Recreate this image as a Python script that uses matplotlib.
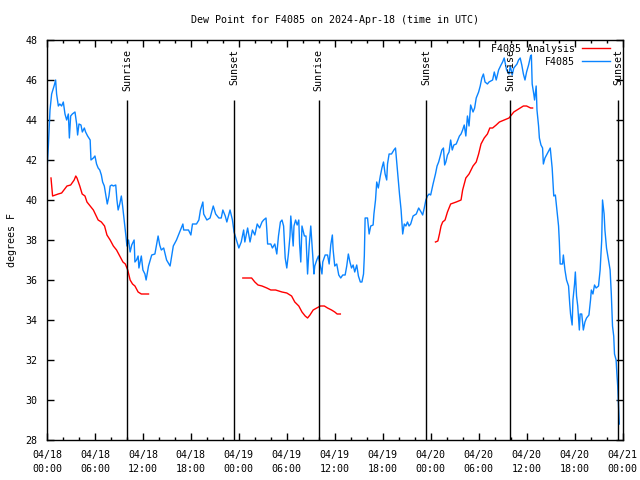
import matplotlib
matplotlib.use("Agg")
import matplotlib.pyplot as plt
import matplotlib.dates as mdates
import numpy as np
import pandas as pd

START = pd.Timestamp("2024-04-18 00:00")

# F4085 observations: hours since 04/18 00:00 UTC, dew point (F)
obs_hours = [
    0.0, 0.17, 0.375, 0.58, 0.92, 1.08, 1.2, 1.42, 1.6, 1.83, 2.04, 2.25, 2.46, 2.67, 2.8, 2.96,
    3.17, 3.5, 3.71, 3.83, 4.0, 4.25, 4.42, 4.67, 4.83, 5.08, 5.4, 5.5, 5.8, 6.0, 6.2, 6.4,
    6.6, 6.8, 6.96, 7.17, 7.33, 7.54, 7.75, 7.9, 8.1, 8.3, 8.6, 8.75, 8.9, 9.1, 9.3, 9.46,
    9.6, 9.75, 9.9, 10.0, 10.2, 10.4, 10.6, 10.9, 11.0, 11.2, 11.4, 11.5, 11.8, 12.0, 12.25, 12.4,
    12.7, 13.1, 13.5, 13.9, 14.1, 14.3, 14.6, 14.96, 15.4, 15.8, 16.2, 16.6, 17.0, 17.1, 17.7, 18.0,
    18.2, 18.7, 19.0, 19.2, 19.5, 19.6, 20.0, 20.4, 20.8, 21.1, 21.5, 21.8, 22.0, 22.3, 22.5, 22.9,
    23.2, 23.4, 23.7, 24.0, 24.3, 24.6, 24.75, 25.1, 25.4, 25.7, 26.0, 26.3, 26.6, 26.9, 27.1, 27.4,
    27.5, 27.6, 28.0, 28.2, 28.5, 28.75, 28.96, 29.2, 29.4, 29.6, 29.8, 30.0, 30.2, 30.4, 30.5, 30.8,
    30.9, 31.1, 31.3, 31.5, 31.6, 31.75, 31.9, 32.2, 32.4, 32.6, 32.8, 33.0, 33.2, 33.4, 33.5, 33.75,
    33.96, 34.2, 34.4, 34.5, 34.8, 35.1, 35.3, 35.5, 35.7, 35.8, 36.0, 36.25, 36.5, 36.75, 37.0, 37.3,
    37.5, 37.7, 37.9, 38.1, 38.3, 38.5, 38.75, 38.96, 39.2, 39.4, 39.6, 39.7, 39.8, 40.1, 40.3, 40.5,
    40.8, 40.9, 41.1, 41.25, 41.45, 41.7, 41.9, 42.1, 42.3, 42.5, 42.6, 42.8, 43.1, 43.4, 43.6, 43.9,
    44.1, 44.3, 44.5, 44.7, 44.9, 45.1, 45.3, 45.5, 45.8, 46.2, 46.5, 46.8, 47.0, 47.2, 47.4, 47.6,
    47.8, 48.0, 48.3, 48.6, 48.8, 49.0, 49.2, 49.4, 49.6, 49.75, 49.9, 50.1, 50.3, 50.5, 50.7, 50.9,
    51.2, 51.4, 51.6, 51.8, 52.0, 52.2, 52.4, 52.6, 52.8, 53.0, 53.3, 53.5, 53.7, 54.0, 54.2, 54.4,
    54.6, 54.8, 55.1, 55.3, 55.75, 55.96, 56.2, 56.5, 56.8, 57.0, 57.2, 57.4, 57.5, 57.8, 57.96, 58.2,
    58.4, 58.6, 58.8, 59.0, 59.2, 59.4, 59.6, 59.8, 60.0, 60.25, 60.5, 60.6, 60.7, 60.9, 61.0, 61.2,
    61.3, 61.5, 61.6, 61.8, 62.0, 62.1, 62.3, 62.5, 62.7, 62.96, 63.2, 63.4, 63.6, 63.8, 64.0, 64.1,
    64.2, 64.5, 64.6, 64.8, 65.0, 65.25, 65.4, 65.5, 65.7, 65.8, 66.0, 66.1, 66.25, 66.4, 66.6, 66.7,
    66.9, 67.1, 67.3, 67.5, 67.8, 68.0, 68.1, 68.3, 68.5, 68.7, 69.0, 69.2, 69.4, 69.5, 69.7, 69.8,
    70.0, 70.25, 70.45, 70.6, 70.75, 70.9, 71.0, 71.2, 71.3, 71.4, 71.5, 71.6,
]
obs_dewpt = [
    41.5, 42.7, 44.5, 45.3, 45.75, 46.0, 45.3, 44.7, 44.8, 44.7, 44.9, 44.3, 44.0, 44.3, 43.1, 44.2,
    44.3, 44.4, 43.8, 43.25, 43.8, 43.75, 43.4, 43.6, 43.4, 43.2, 43.0, 42.0, 42.1, 42.2, 41.8, 41.6,
    41.5, 41.25, 40.9, 40.7, 40.3, 39.8, 40.2, 40.7, 40.75, 40.7, 40.75, 40.0, 39.5, 39.8, 40.2, 39.7,
    39.2, 38.7, 38.1, 37.7, 38.0, 37.4, 37.75, 38.0, 36.9, 37.0, 37.2, 36.6, 37.2, 36.5, 36.3, 36.0,
    36.7, 37.25, 37.3, 38.2, 37.75, 37.5, 37.6, 37.0, 36.7, 37.7, 38.0, 38.4, 38.8, 38.5, 38.5, 38.25,
    38.8, 38.8, 39.0, 39.5, 39.9, 39.3, 39.0, 39.1, 39.7, 39.3, 39.1, 39.1, 39.5, 39.2, 38.9, 39.5,
    39.0, 38.4, 38.0, 37.6, 37.9, 38.5, 37.9, 38.6, 37.9, 38.5, 38.25, 38.8, 38.6, 38.9, 39.0, 39.1,
    38.5, 37.8, 37.8, 37.6, 37.8, 37.3, 38.2, 38.9, 39.0, 38.7, 37.1, 36.6, 37.3, 38.2, 39.2, 37.7,
    38.7, 39.0, 38.75, 39.0, 37.8, 36.9, 38.7, 38.2, 38.2, 36.3, 37.7, 38.7, 37.5, 36.3, 36.7, 37.0,
    37.2, 36.7, 36.3, 36.9, 37.25, 37.25, 36.8, 37.75, 38.25, 37.5, 36.7, 36.8, 36.25, 36.1, 36.25, 36.25,
    36.7, 37.3, 36.9, 36.6, 36.75, 36.4, 36.75, 36.2, 35.9, 35.9, 36.3, 37.2, 39.1, 39.1, 38.3, 38.7,
    38.75, 39.3, 40.0, 40.9, 40.6, 41.2, 41.6, 41.9, 41.3, 41.0, 41.8, 42.3, 42.3, 42.5, 42.6, 41.2,
    40.3, 39.5, 38.3, 38.8, 38.7, 38.9, 38.7, 38.8, 39.2, 39.3, 39.6, 39.4, 39.25, 39.6, 40.0, 40.2,
    40.3, 40.25, 40.8, 41.3, 41.7, 41.9, 42.2, 42.5, 42.6, 41.75, 41.9, 42.25, 42.4, 43.0, 42.5, 42.75,
    42.8, 43.0, 43.2, 43.3, 43.5, 43.75, 43.2, 44.2, 43.7, 44.75, 44.4, 44.6, 45.1, 45.4, 45.7, 46.1,
    46.3, 45.9, 45.8, 45.9, 46.0, 46.4, 46.0, 46.5, 46.75, 46.9, 47.1, 46.7, 46.5, 46.3, 46.7, 46.25,
    46.6, 46.7, 46.8, 47.0, 47.1, 46.75, 46.3, 46.0, 46.4, 46.75, 47.2, 47.25, 45.8, 45.3, 45.0, 45.7,
    44.5, 43.7, 43.1, 42.75, 42.6, 41.8, 42.1, 42.25, 42.4, 42.6, 41.6, 40.2, 40.25, 39.5, 38.7, 37.9,
    36.8, 36.8, 37.25, 36.5, 36.0, 35.7, 34.8, 34.3, 33.75, 35.0, 35.8, 36.4, 35.2, 34.7, 33.5, 34.3,
    34.3, 33.5, 33.9, 34.1, 34.25, 35.0, 35.5, 35.3, 35.75, 35.6, 35.7, 36.5, 38.0, 40.0, 39.3, 38.5,
    37.6, 37.0, 36.5, 35.3, 33.7, 33.2, 32.3, 32.0, 31.3, 30.7, 29.7, 28.8,
]

# F4085 Analysis (NaN marks the gaps between analysis runs)
ana_hours = [
    0.5, 0.7, 1.4, 1.83, 2.5, 2.96, 3.4, 3.6, 3.75, 4.1, 4.4, 4.75, 5.0, 5.4, 5.8, 6.1,
    6.4, 6.8, 7.2, 7.5, 7.9, 8.3, 8.7, 9.1, 9.5, 9.8, 10.1, 10.4, 10.7, 11.0, 11.4, 11.8,
    12.25, 12.7, 18.0,
    24.5, 25.2, 25.6, 26.0, 26.4, 26.9, 27.5, 28.0, 28.6, 29.4, 30.0, 30.6, 31.0, 31.5, 31.9, 32.3,
    32.6, 32.9, 33.3, 33.75, 34.2, 34.7, 35.1, 35.6, 36.0, 36.3, 36.7, 42.0,
    48.6, 48.9, 49.1, 49.3, 49.5, 49.8, 50.1, 50.5, 51.2, 51.8, 52.0, 52.4, 52.8, 53.3, 53.7, 54.0,
    54.3, 54.7, 55.1, 55.4, 55.75, 56.2, 56.6, 57.2, 57.8, 58.4, 58.8, 59.2, 59.6, 60.0, 60.5, 60.75,
]
ana_dewpt = [
    41.1, 40.2, 40.3, 40.35, 40.7, 40.75, 41.0, 41.2, 41.1, 40.7, 40.3, 40.2, 39.9, 39.7, 39.5, 39.25,
    39.0, 38.9, 38.7, 38.25, 38.0, 37.7, 37.5, 37.2, 36.9, 36.8, 36.5, 36.0, 35.8, 35.7, 35.4, 35.3,
    35.3, 35.3, np.nan,
    36.1, 36.1, 36.1, 35.9, 35.75, 35.7, 35.6, 35.5, 35.5, 35.4, 35.35, 35.2, 34.9, 34.7, 34.4, 34.2,
    34.1, 34.25, 34.5, 34.6, 34.7, 34.7, 34.6, 34.5, 34.4, 34.3, 34.3, np.nan,
    37.9, 37.95, 38.3, 38.7, 38.9, 39.0, 39.4, 39.8, 39.9, 40.0, 40.5, 41.1, 41.3, 41.7, 41.9, 42.3,
    42.8, 43.1, 43.3, 43.6, 43.6, 43.75, 43.9, 44.0, 44.1, 44.4, 44.5, 44.6, 44.7, 44.7, 44.6, 44.6,
]

sun_hours = [10.0, 23.42, 33.98, 47.43, 57.95, 71.43]
sun_labels = ["Sunrise", "Sunset", "Sunrise", "Sunset", "Sunrise", "Sunset"]


def to_time(hours):
    return START + pd.to_timedelta(hours, unit="h")


plt.rcParams["font.family"] = "DejaVu Sans Mono"
plt.rcParams["font.size"] = 7.2

fig = plt.figure(figsize=(6.4, 4.8), dpi=100)
ax = fig.add_axes([47 / 640, 40 / 480, 575.5 / 640, 400 / 480])

ax.plot(to_time(ana_hours), ana_dewpt, color="#ff0000", lw=1.0, label="F4085 Analysis")
ax.plot(to_time(obs_hours), obs_dewpt, color="#0a84ff", lw=1.0, label="F4085")

# sunrise / sunset markers
for h, lab in zip(sun_hours, sun_labels):
    t = to_time(h)
    ax.vlines(t, 28, 45, color="black", lw=1.0)
    ax.text(t, 47.55, lab, rotation=90, ha="center", va="top")

ax.set_xlim(START, START + pd.Timedelta(hours=72))
ax.set_ylim(28, 48)
ax.set_yticks(np.arange(28, 49, 2))
ax.xaxis.set_major_locator(mdates.HourLocator(byhour=range(0, 24, 6)))
ax.xaxis.set_minor_locator(mdates.HourLocator(byhour=range(0, 24, 2)))
ax.xaxis.set_major_formatter(mdates.DateFormatter("%m/%d\n%H:%M"))
for lbl in ax.get_xticklabels():
    lbl.set_linespacing(1.5)

ax.tick_params(which="both", direction="in", top=True, right=True, width=1.0)
ax.tick_params(which="major", length=5, pad=7)
ax.tick_params(which="minor", length=2.5)
for s in ax.spines.values():
    s.set_linewidth(1.0)

ax.set_ylabel("degrees F", labelpad=6)
fig.text(335 / 640, 1 - 20 / 480, "Dew Point for F4085 on 2024-Apr-18 (time in UTC)",
         ha="center", va="center")

ax.legend(loc="upper right", bbox_to_anchor=((610 - 47) / 575.5, (440 - 44) / 400),
          frameon=False, markerfirst=False, borderaxespad=0, borderpad=0,
          handlelength=2.8, handletextpad=0.7, labelspacing=0.3)

fig.savefig("out.png", dpi=100)
